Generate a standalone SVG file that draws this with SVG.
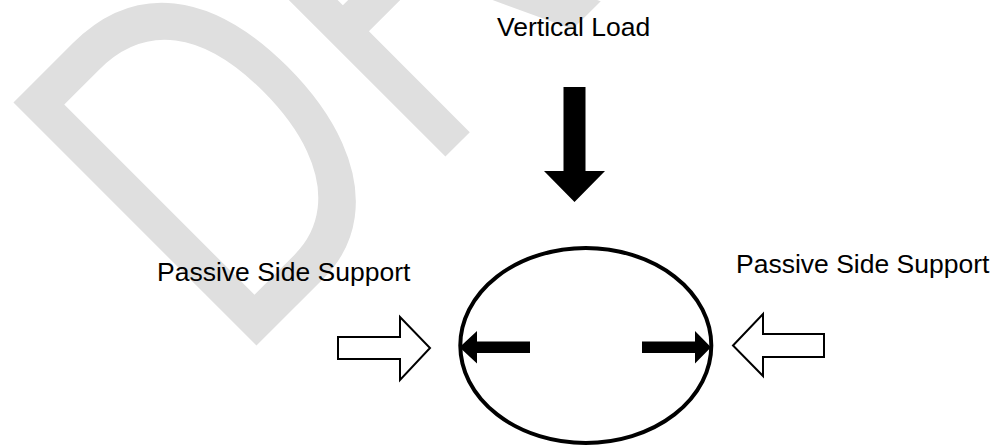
<svg xmlns="http://www.w3.org/2000/svg" width="993" height="447" viewBox="0 0 993 447">
  <style>
    .lbl { font-family: "Liberation Sans", Arial, sans-serif; font-size: 26.5px; fill: #000; }
    .wm { font-family: "Liberation Sans", Arial, sans-serif; font-size: 370px; fill: #dfdfdf; }
    .solid { fill: #000; stroke: none; }
    .hollow { fill: #fff; stroke: #000; stroke-width: 2; stroke-linejoin: miter; }
  </style>
  <rect width="993" height="447" fill="#fff"/>
  <g id="watermark">
    <text class="wm" transform="translate(235,367) rotate(-45) scale(1,1.35)">DRAFT</text>
  </g>
  <g id="vertical-load">
    <text class="lbl" x="497" y="35.7">Vertical Load</text>
  </g>
  <g id="ring">
    <ellipse cx="585.8" cy="345.5" rx="125.5" ry="97.5" fill="none" stroke="#000" stroke-width="4"/>
  </g>
  <g id="left-support">
    <text class="lbl" x="157" y="280.7">Passive Side Support</text>
    <polygon class="hollow" points="338,337 400,337 400,317 430,348 400,380 400,359 338,359"/>
  </g>
  <g id="right-support">
    <text class="lbl" x="736" y="272.7">Passive Side Support</text>
    <polygon class="hollow" points="824,334 763,334 763,314 733,345.5 763,376 763,357 824,357"/>
  </g>
  <g id="connectors">
    <polygon class="solid" points="563.5,87 585.5,87 585.5,171 605,171 574.5,202 544,171 563.5,171"/>
    <polygon class="solid" points="530,341.5 530,353 477,353 477,363.5 459.5,347.3 477,331 477,341.5"/>
    <polygon class="solid" points="642,341.5 642,353 695,353 695,363.5 711,347.3 695,331 695,341.5"/>
  </g>
</svg>
